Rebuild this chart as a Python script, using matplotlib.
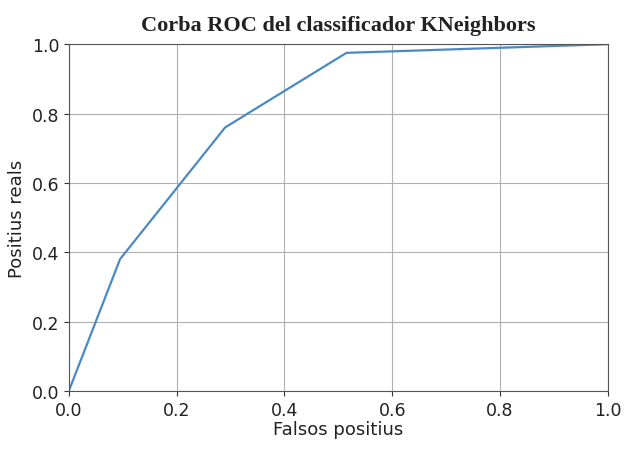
import matplotlib.pyplot as plt

# ROC curve points for the KNeighbors classifier
fpr = [0.0, 0.095, 0.29, 0.515, 1.0]
tpr = [0.0, 0.38, 0.76, 0.975, 1.0]

fig = plt.figure(figsize=(6.26, 4.52), dpi=100)
ax = fig.add_axes([0.110, 0.133, 0.861, 0.767])
ax.plot(fpr, tpr, color='#4a8ac4', lw=1.6)
ax.set_xlim(0, 1)
ax.set_ylim(0, 1)
ax.grid(True, color='#b0b0b0', lw=0.8)
ax.tick_params(labelsize=12.5, colors='#333333', labelcolor='#222222')
for s in ax.spines.values():
    s.set_color('#555555')
ax.set_xlabel('Falsos positius', fontsize=13, labelpad=1, color='#222222')
ax.set_ylabel('Positius reals', fontsize=13, labelpad=4, color='#222222')
ax.set_title('Corba ROC del classificador KNeighbors', fontsize=16,
             fontweight='bold', family='Liberation Serif', pad=10, color='#222222')
fig.savefig('out.png', dpi=100)
